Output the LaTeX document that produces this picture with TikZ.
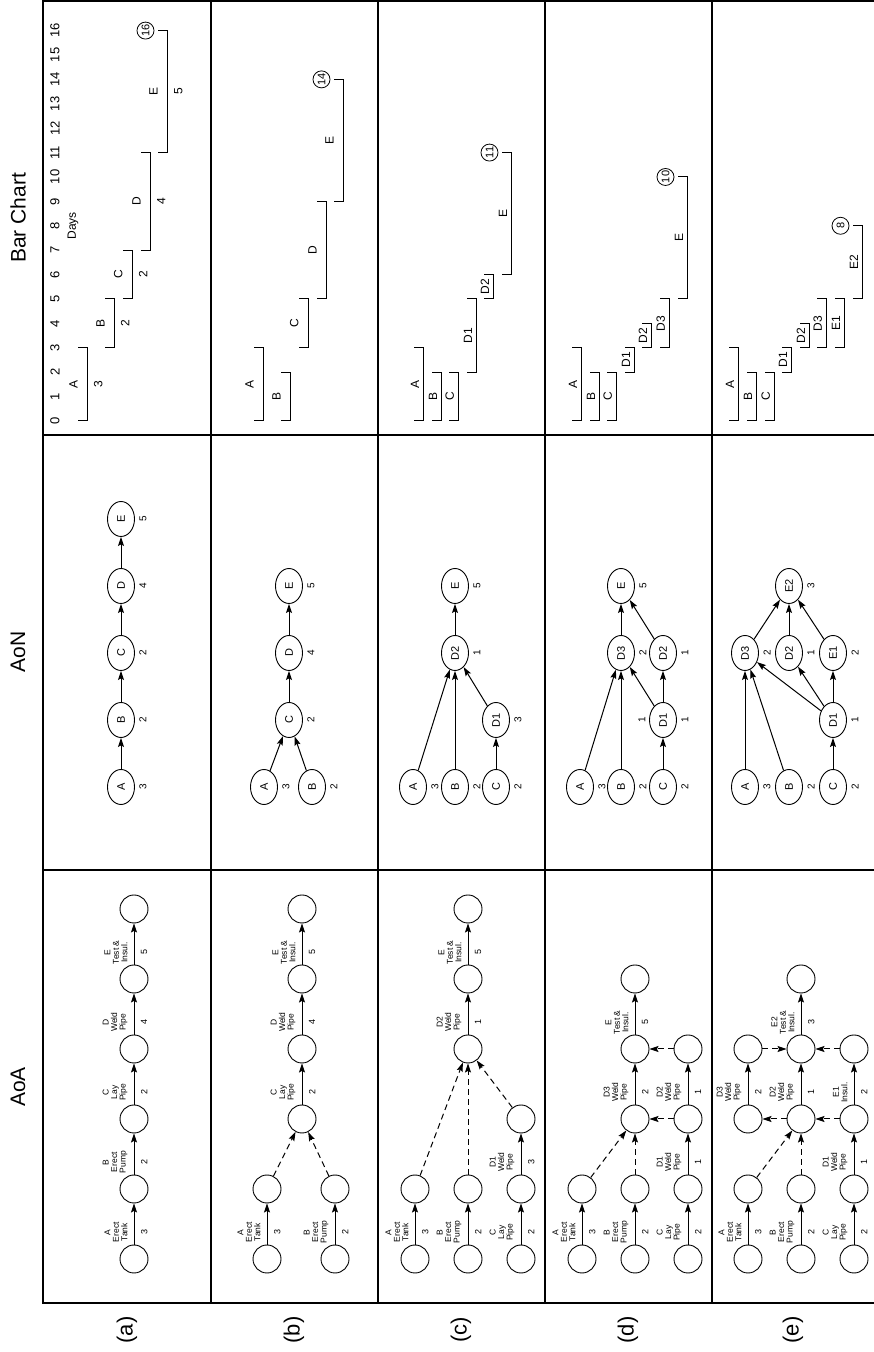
\documentclass[tikz,border=0pt]{standalone}
\usepackage{fontspec}
\setmainfont{Liberation Sans}
\usetikzlibrary{arrows.meta,shapes.geometric}

\tikzset{
  ev/.style={circle, draw, line width=0.9pt, minimum size=28pt, inner sep=0pt},
  act/.style={-{Stealth[length=9pt,width=6pt,inset=1.5pt]}, line width=1pt},
  dummy/.style={act, dash pattern=on 6pt off 4pt},
  what/.style={pos=.3, above=6pt, inner sep=0pt, align=center, font=\fontsize{8.5}{8.5}\selectfont},
  dur/.style={pos=.3, below=6.5pt, inner sep=0pt, font=\fontsize{9}{9}\selectfont},
  job/.style={ellipse, draw, line width=0.9pt, minimum width=35pt, minimum height=27pt, inner sep=0pt,
    font=\fontsize{11}{12}\selectfont},
  jobdur/.style={inner sep=0pt, font=\fontsize{10}{10}\selectfont},
  gbar/.style={line width=1pt},
  glbl/.style={inner sep=0pt, font=\fontsize{12}{12}\selectfont},
  tick/.style={font=\fontsize{13}{13}\selectfont},
  total/.style={circle, draw, line width=0.8pt, minimum size=17pt, inner sep=0pt, font=\fontsize{11}{11}\selectfont},
  colhead/.style={font=\fontsize{21}{24}\selectfont},
  rowlbl/.style={font=\fontsize{22}{24}\selectfont},
  frame/.style={line width=1.2pt},
}

\begin{document}
\begin{tikzpicture}[x=1pt, y=1pt, rotate=90, transform shape]
  % laid out landscape, turned a quarter turn
  \useasboundingbox (0,-874) rectangle (1352,0);

  % table
  \draw[frame] (49,-874) -- (49,-43) -- (1351,-43) -- (1351,-874);
  \foreach \u in {482,917} \draw[frame] (\u,-43) -- (\u,-874);
  \foreach \v in {-211,-378,-545,-712} \draw[frame] (49,\v) -- (1351,\v);

  \node[colhead] (hAoA) at (265,-18) {AoA};
  \node[colhead] (hAoN) at (700,-18) {AoN};
  \node[colhead] (hBar) at (1134,-18) {Bar Chart};
  \foreach \r/\v in {a/-127,b/-294,c/-461,d/-628,e/-793}
    \node[rowlbl] (row\r) at (22,\v) {(\r)};

  % ---------------- AoA ----------------
  \begin{scope}[shift={(93,0)}, x=70pt]
    % (a)
    \foreach \k in {0,...,5} \node[ev] (a\k) at (\k,-134) {};
    \draw[act] (a0) -- node[what] (aAt) {A\\Erect\\Tank} node[dur] (aAd) {3} (a1);
    \draw[act] (a1) -- node[what] (aBt) {B\\Erect\\Pump} node[dur] (aBd) {2} (a2);
    \draw[act] (a2) -- node[what] (aCt) {C\\Lay\\Pipe} node[dur] (aCd) {2} (a3);
    \draw[act] (a3) -- node[what] (aDt) {D\\Weld\\Pipe} node[dur] (aDd) {4} (a4);
    \draw[act] (a4) -- node[what] (aEt) {E\\Test \&\\Insul.} node[dur] (aEd) {5} (a5);

    % (b)
    \node[ev] (b0A) at (0,-267) {};
    \node[ev] (b1A) at (1,-267) {};
    \node[ev] (b0B) at (0,-335) {};
    \node[ev] (b1B) at (1,-335) {};
    \foreach \k in {2,...,5} \node[ev] (b\k) at (\k,-302) {};
    \draw[act] (b0A) -- node[what] (bAt) {A\\Erect\\Tank} node[dur] (bAd) {3} (b1A);
    \draw[act] (b0B) -- node[what] (bBt) {B\\Erect\\Pump} node[dur] (bBd) {2} (b1B);
    \draw[dummy] (b1A) -- (b2);
    \draw[dummy] (b1B) -- (b2);
    \draw[act] (b2) -- node[what] (bCt) {C\\Lay\\Pipe} node[dur] (bCd) {2} (b3);
    \draw[act] (b3) -- node[what] (bDt) {D\\Weld\\Pipe} node[dur] (bDd) {4} (b4);
    \draw[act] (b4) -- node[what] (bEt) {E\\Test \&\\Insul.} node[dur] (bEd) {5} (b5);

    % (c)
    \foreach \l/\v in {A/-415,B/-468,C/-521} {
      \node[ev] (c0\l) at (0,\v) {};
      \node[ev] (c1\l) at (1,\v) {};
    }
    \node[ev] (c2C) at (2,-521) {};
    \foreach \k in {3,4,5} \node[ev] (c\k) at (\k,-468) {};
    \draw[act] (c0A) -- node[what] (cAt) {A\\Erect\\Tank} node[dur] (cAd) {3} (c1A);
    \draw[act] (c0B) -- node[what] (cBt) {B\\Erect\\Pump} node[dur] (cBd) {2} (c1B);
    \draw[act] (c0C) -- node[what] (cCt) {C\\Lay\\Pipe} node[dur] (cCd) {2} (c1C);
    \draw[act] (c1C) -- node[what] (cD1t) {D1\\Weld\\Pipe} node[dur] (cD1d) {3} (c2C);
    \draw[dummy] (c1A) -- (c3);
    \draw[dummy] (c1B) -- (c3);
    \draw[dummy] (c2C) -- (c3);
    \draw[act] (c3) -- node[what] (cD2t) {D2\\Weld\\Pipe} node[dur] (cD2d) {1} (c4);
    \draw[act] (c4) -- node[what] (cEt) {E\\Test \&\\Insul.} node[dur] (cEd) {5} (c5);

    % (d)
    \foreach \l/\v in {A/-582,B/-635,C/-688} {
      \node[ev] (d0\l) at (0,\v) {};
      \node[ev] (d1\l) at (1,\v) {};
    }
    \node[ev] (d2C) at (2,-688) {};
    \node[ev] (d3C) at (3,-688) {};
    \foreach \k in {2,3,4} \node[ev] (d\k) at (\k,-635) {};
    \draw[act] (d0A) -- node[what] (dAt) {A\\Erect\\Tank} node[dur] (dAd) {3} (d1A);
    \draw[act] (d0B) -- node[what] (dBt) {B\\Erect\\Pump} node[dur] (dBd) {2} (d1B);
    \draw[act] (d0C) -- node[what] (dCt) {C\\Lay\\Pipe} node[dur] (dCd) {2} (d1C);
    \draw[act] (d1C) -- node[what] (dD1t) {D1\\Weld\\Pipe} node[dur] (dD1d) {1} (d2C);
    \draw[act] (d2C) -- node[what] (dD2t) {D2\\Weld\\Pipe} node[dur] (dD2d) {1} (d3C);
    \draw[dummy] (d1A) -- (d2);
    \draw[dummy] (d1B) -- (d2);
    \draw[dummy] (d2C) -- (d2);
    \draw[dummy] (d3C) -- (d3);
    \draw[act] (d2) -- node[what] (dD3t) {D3\\Weld\\Pipe} node[dur] (dD3d) {2} (d3);
    \draw[act] (d3) -- node[what] (dEt) {E\\Test \&\\Insul.} node[dur] (dEd) {5} (d4);

    % (e)
    \foreach \l/\v in {A/-748,B/-801,C/-854} {
      \node[ev] (e0\l) at (0,\v) {};
      \node[ev] (e1\l) at (1,\v) {};
    }
    \node[ev] (e2C) at (2,-854) {};
    \node[ev] (e3C) at (3,-854) {};
    \node[ev] (e2A) at (2,-748) {};
    \node[ev] (e3A) at (3,-748) {};
    \foreach \k in {2,3,4} \node[ev] (e\k) at (\k,-801) {};
    \draw[act] (e0A) -- node[what] (eAt) {A\\Erect\\Tank} node[dur] (eAd) {3} (e1A);
    \draw[act] (e0B) -- node[what] (eBt) {B\\Erect\\Pump} node[dur] (eBd) {2} (e1B);
    \draw[act] (e0C) -- node[what] (eCt) {C\\Lay\\Pipe} node[dur] (eCd) {2} (e1C);
    \draw[act] (e1C) -- node[what] (eD1t) {D1\\Weld\\Pipe} node[dur] (eD1d) {1} (e2C);
    \draw[act] (e2C) -- node[what] (eE1t) {E1\\Insul.} node[dur] (eE1d) {2} (e3C);
    \draw[act] (e2) -- node[what] (eD2t) {D2\\Weld\\Pipe} node[dur] (eD2d) {1} (e3);
    \draw[act] (e2A) -- node[what] (eD3t) {D3\\Weld\\Pipe} node[dur] (eD3d) {2} (e3A);
    \draw[act] (e3) -- node[what] (eE2t) {E2\\Test \&\\Insul.} node[dur] (eE2d) {3} (e4);
    \draw[dummy] (e1A) -- (e2);
    \draw[dummy] (e1B) -- (e2);
    \draw[dummy] (e2C) -- (e2);
    \draw[dummy] (e2) -- (e2A);
    \draw[dummy] (e3A) -- (e3);
    \draw[dummy] (e3C) -- (e3);
  \end{scope}

  % ---------------- AoN ----------------
  % durations sit 22 below each node
  \begin{scope}[shift={(565,0)}, x=67pt]
    % (a)
    \foreach \n/\k/\d in {A/0/3,B/1/2,C/2/2,D/3/4,E/4/5} {
      \node[job] (na\n) at (\k,-121) {\n};
      \node[jobdur] (na\n-d) at (\k,-143) {\d};
    }
    \draw[act] (naA) -- (naB);
    \draw[act] (naB) -- (naC);
    \draw[act] (naC) -- (naD);
    \draw[act] (naD) -- (naE);

    % (b)
    \foreach \n/\k/\v/\d in {A/0/-264/3,B/0/-312/2,C/1/-289/2,D/2/-289/4,E/3/-289/5} {
      \node[job] (nb\n) at (\k,\v) {\n};
      \node[jobdur] (nb\n-d) at (\k,\v-22) {\d};
    }
    \draw[act] (nbA) -- (nbC);
    \draw[act] (nbB) -- (nbC);
    \draw[act] (nbC) -- (nbD);
    \draw[act] (nbD) -- (nbE);

    % (c)
    \foreach \n/\k/\v/\d in {A/0/-413/3,B/0/-455/2,C/0/-496/2,D1/1/-496/3,D2/2/-455/1,E/3/-455/5} {
      \node[job] (nc\n) at (\k,\v) {\n};
      \node[jobdur] (nc\n-d) at (\k,\v-22) {\d};
    }
    \draw[act] (ncA) -- (ncD2);
    \draw[act] (ncB) -- (ncD2);
    \draw[act] (ncC) -- (ncD1);
    \draw[act] (ncD1) -- (ncD2);
    \draw[act] (ncD2) -- (ncE);

    % (d)
    \foreach \n/\k/\v/\d in {A/0/-580/3,B/0/-621/2,C/0/-663/2,D1/1/-663/1,D3/2/-621/2,D2/2/-663/1,E/3/-621/5} {
      \node[job] (nd\n) at (\k,\v) {\n};
      \node[jobdur] (nd\n-d) at (\k,\v-22) {\d};
    }
    \node[jobdur] (ndD1-u) at (1,-642) {1};
    \draw[act] (ndA) -- (ndD3);
    \draw[act] (ndB) -- (ndD3);
    \draw[act] (ndC) -- (ndD1);
    \draw[act] (ndD1) -- (ndD3);
    \draw[act] (ndD1) -- (ndD2);
    \draw[act] (ndD3) -- (ndE);
    \draw[act] (ndD2) -- (ndE);

    % (e)
    \foreach \n/\k/\v/\d in {A/0/-745/3,B/0/-789/2,C/0/-833/2,D1/1/-833/1,D3/2/-745/2,D2/2/-789/1,E1/2/-833/2,E2/3/-789/3} {
      \node[job] (ne\n) at (\k,\v) {\n};
      \node[jobdur] (ne\n-d) at (\k,\v-22) {\d};
    }
    \draw[act] (neA) -- (neD3);
    \draw[act] (neB) -- (neD3);
    \draw[act] (neC) -- (neD1);
    \draw[act] (neD1) -- (neD3);
    \draw[act] (neD1) -- (neD2);
    \draw[act] (neD1) -- (neE1);
    \draw[act] (neD3) -- (neE2);
    \draw[act] (neD2) -- (neE2);
    \draw[act] (neE1) -- (neE2);
  \end{scope}

  % ---------------- Bar chart ----------------
  \begin{scope}[shift={(931,0)}, x=24.4pt]
    \foreach \d in {0,...,16} \node[tick] (day\d) at (\d,-55) {\d};
    \node[glbl] (days) at (8,-73) {Days};

    % (a)
    \foreach \v/\s/\e/\n/\d in {-87/0/3/A/3,-114/3/5/B/2,-132/5/7/C/2,-150/7/11/D/4,-167/11/16/E/5}
      \draw[gbar] (\s,\v+9) -- (\s,\v) -- node[glbl, above=9pt] (ga\n) {\n}
        node[glbl, below=6.5pt] (gad\n) {\d} (\e,\v) -- (\e,\v+9);
    \node[total] (tota) at (16,-145.5) {16};

    % (b)
    \foreach \v/\s/\e/\n in {-263/0/3/A,-290/0/2/B,-308/3/5/C,-326/5/9/D,-343/9/14/E}
      \draw[gbar] (\s,\v+9) -- (\s,\v) -- node[glbl, above=9pt] (gb\n) {\n} (\e,\v) -- (\e,\v+9);
    \node[total] (totb) at (14,-321.5) {14};

    % (c)
    \foreach \v/\s/\e/\n in {-423/0/3/A,-441/0/2/B,-458/0/2/C,-476/2/5/D1,-493/5/6/D2,-511/6/11/E}
      \draw[gbar] (\s,\v+9) -- (\s,\v) -- node[glbl, above=3.5pt] (gc\n) {\n} (\e,\v) -- (\e,\v+9);
    \node[total] (totc) at (11,-489.5) {11};

    % (d)
    \foreach \v/\s/\e/\n in {-581/0/3/A,-599/0/2/B,-616/0/2/C,-634/2/3/D1,-651/3/4/D2,-669/3/5/D3,-687/5/10/E}
      \draw[gbar] (\s,\v+9) -- (\s,\v) -- node[glbl, above=3.5pt] (gd\n) {\n} (\e,\v) -- (\e,\v+9);
    \node[total] (totd) at (10,-665.5) {10};

    % (e)
    \foreach \v/\s/\e/\n in {-738/0/3/A,-756/0/2/B,-774/0/2/C,-791/2/3/D1,-809/3/4/D2,-826/3/5/D3,-844/3/5/E1,-862/5/8/E2}
      \draw[gbar] (\s,\v+9) -- (\s,\v) -- node[glbl, above=3.5pt] (ge\n) {\n} (\e,\v) -- (\e,\v+9);
    \node[total] (tote) at (8,-840.5) {8};
  \end{scope}
\end{tikzpicture}
\end{document}
